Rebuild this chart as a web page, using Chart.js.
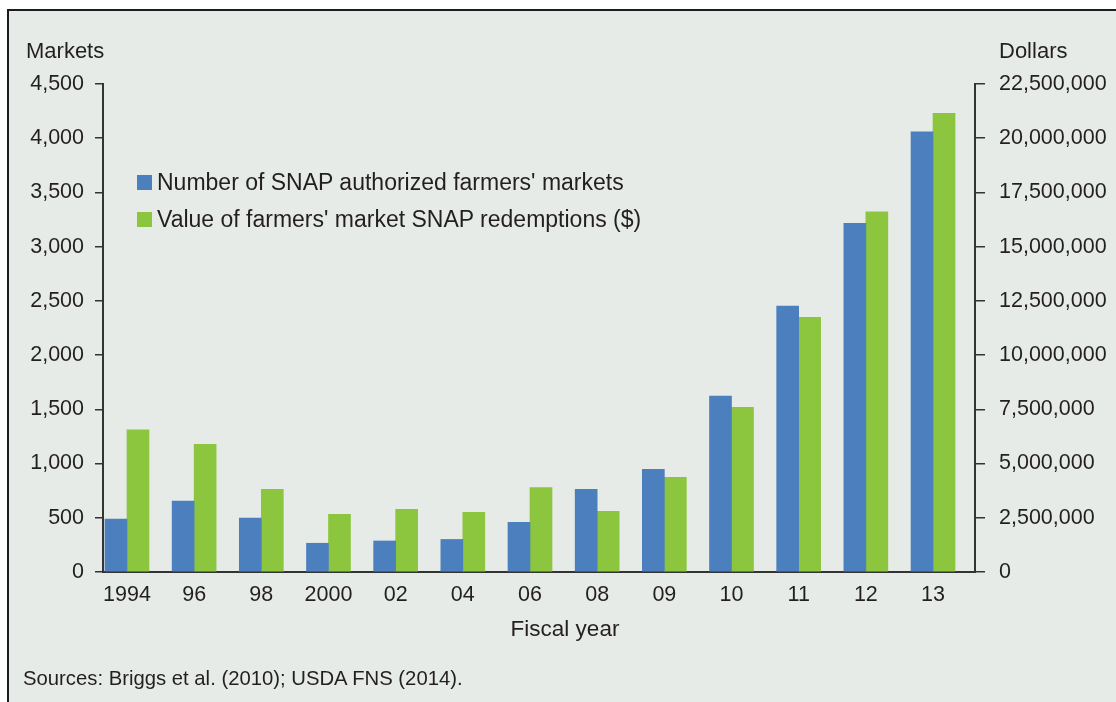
<!DOCTYPE html>
<html>
<head>
<meta charset="utf-8">
<script src="https://cdn.jsdelivr.net/npm/chart.js@4.4.0/dist/chart.umd.min.js"></script>
<style>
html,body{margin:0;padding:0;background:#ffffff;width:1116px;height:702px;overflow:hidden;font-family:"Liberation Sans",Arial,Helvetica,sans-serif;color:#231f20}
#frame{position:absolute;left:7px;top:9px;width:1130px;height:710px;border-top:2px solid #1c1c1c;border-left:2px solid #1c1c1c;background:#e6ebe7}
#c{position:absolute;left:0;top:0}
.t{position:absolute;white-space:nowrap;line-height:24px}
#legend{position:absolute;left:137px;top:164px}
.lrow{display:flex;align-items:center;height:37px;font-size:23px;white-space:nowrap}
.lbox{width:15px;height:15px;margin-right:5px;flex:none}
</style>
</head>
<body>
<div id="frame"></div>
<canvas id="c" width="1116" height="702"></canvas>
<div class="t" style="left:26px;top:39px;font-size:22px">Markets</div>
<div class="t" style="left:999px;top:39px;font-size:22px">Dollars</div>
<div class="t" style="left:465px;width:200px;text-align:center;top:617px;font-size:22.5px">Fiscal year</div>
<div class="t" style="left:23px;top:666px;font-size:20.3px">Sources: Briggs et al. (2010); USDA FNS (2014).</div>
<div id="legend"></div>
<script>
// ---- data ----
const years = ['1994','96','98','2000','02','04','06','08','09','10','11','12','13'];
const markets = [488, 655, 498, 265, 286, 300, 458, 763, 947, 1623, 2453, 3215, 4060];
const dollars = [6550000, 5890000, 3810000, 2660000, 2890000, 2750000, 3890000, 2800000, 4370000, 7590000, 11740000, 16610000, 21150000];
const marketTicks = [0, 500, 1000, 1500, 2000, 2500, 3000, 3500, 4000, 4500];
const dollarTicks = [0, 2500000, 5000000, 7500000, 10000000, 12500000, 15000000, 17500000, 20000000, 22500000];
const seriesNames = ["Number of SNAP authorized farmers' markets", "Value of farmers' market SNAP redemptions ($)"];
const seriesColors = ['#4b7fbd', '#8cc63f'];

// ---- styles ----
const FONT = '"Liberation Sans", Arial, Helvetica, sans-serif';
const TEXT = '#231f20';
const AXIS = '#333333';
Chart.defaults.font.family = FONT;
Chart.defaults.color = TEXT;

const fmt = v => Number(v).toLocaleString('en-US');

const chart = new Chart(document.getElementById('c'), {
  type: 'bar',
  data: {
    datasets: [
      { label: seriesNames[0], data: markets.map((v, i) => ({ x: i, y: v })), yAxisID: 'y', backgroundColor: seriesColors[0] },
      { label: seriesNames[1], data: dollars.map((v, i) => ({ x: i, y: v })), yAxisID: 'y1', backgroundColor: seriesColors[1] }
    ]
  },
  options: {
    responsive: false,
    animation: false,
    devicePixelRatio: 1,
    layout: { padding: { top: 84, left: 0, right: 0, bottom: 0 } },
    datasets: { bar: { barThickness: 22, borderWidth: 0, grouped: true } },
    plugins: { legend: { display: false }, tooltip: { enabled: false } },
    scales: {
      x: {
        type: 'linear',
        min: -0.357,
        max: 12.625,
        offset: false,
        grid: { display: true, drawOnChartArea: false, drawTicks: false, offset: false },
        border: { display: true, color: AXIS, width: 2 },
        ticks: {
          stepSize: 1,
          includeBounds: false,
          autoSkip: false,
          maxRotation: 0,
          padding: 10,
          font: { size: 21.5 },
          color: TEXT,
          callback: v => (Number.isInteger(v) && years[v] !== undefined) ? years[v] : ''
        },
        afterFit: s => { s.height = 130; }
      },
      y: {
        position: 'left',
        min: 0,
        max: 4500,
        grid: { drawOnChartArea: false, drawTicks: true, tickLength: 8, color: AXIS, lineWidth: 1.5 },
        border: { display: true, color: AXIS, width: 2 },
        ticks: { font: { size: 21.5 }, color: TEXT, padding: 11, callback: v => fmt(v) },
        afterBuildTicks: s => { s.ticks = marketTicks.map(v => ({ value: v })); },
        afterFit: s => { s.width = 103; }
      },
      y1: {
        position: 'right',
        min: 0,
        max: 22500000,
        grid: { drawOnChartArea: false, drawTicks: true, tickLength: 10, color: AXIS, lineWidth: 1.5 },
        border: { display: true, color: AXIS, width: 2 },
        ticks: { font: { size: 21.5 }, color: TEXT, padding: 14, callback: v => fmt(v) },
        afterBuildTicks: s => { s.ticks = dollarTicks.map(v => ({ value: v })); },
        afterFit: s => { s.width = 141; }
      }
    }
  }
});

// legend built from the chart's datasets
const lg = document.getElementById('legend');
chart.data.datasets.forEach(ds => {
  const row = document.createElement('div');
  row.className = 'lrow';
  const box = document.createElement('span');
  box.className = 'lbox';
  box.style.background = ds.backgroundColor;
  const txt = document.createElement('span');
  txt.textContent = ds.label;
  row.appendChild(box);
  row.appendChild(txt);
  lg.appendChild(row);
});
</script>
</body>
</html>
